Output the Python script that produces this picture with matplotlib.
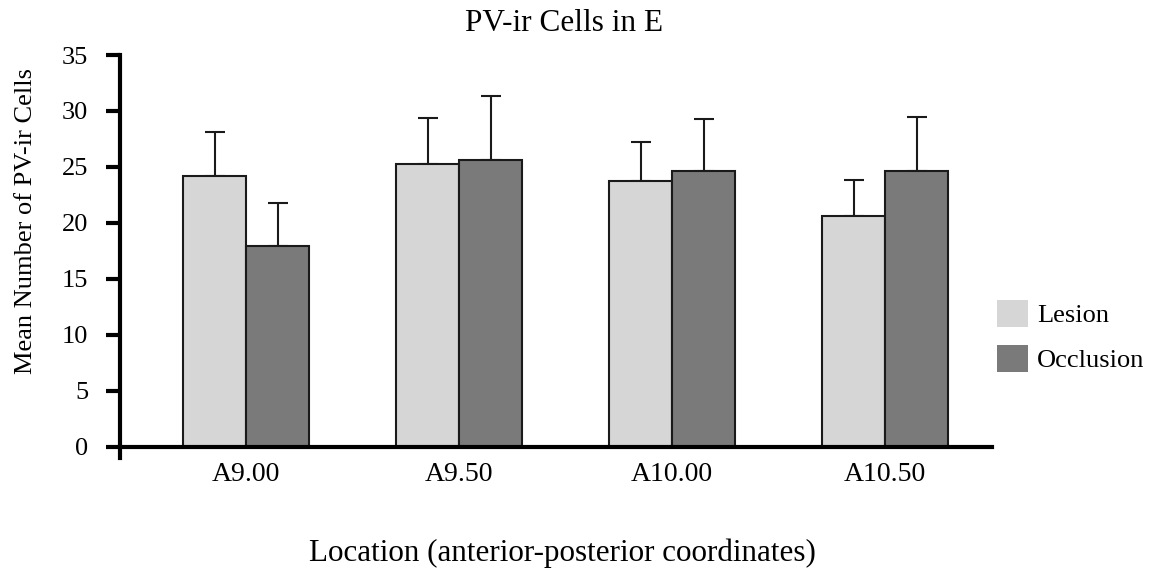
import numpy as np
import matplotlib
matplotlib.use("Agg")
import matplotlib.pyplot as plt
from matplotlib.patches import Patch

plt.rcParams["font.family"] = ["Liberation Serif", "DejaVu Serif"]

locations = ["A9.00", "A9.50", "A10.00", "A10.50"]
lesion = [24.2, 25.3, 23.7, 20.6]
lesion_err = [3.9, 4.1, 3.5, 3.2]
occlusion = [17.9, 25.6, 24.6, 24.6]
occlusion_err = [3.9, 5.7, 4.7, 4.9]
yticks = [0, 5, 10, 15, 20, 25, 30, 35]

light = "#d6d6d6"
dark = "#7a7a7a"
edge = "#1a1a1a"

W, H = 1154, 569
fig = plt.figure(figsize=(W / 100, H / 100), dpi=100)
ax = fig.add_axes([120 / W, 1 - 457.9 / H, 872 / W, (457.9 - 55) / H])

x = np.arange(len(locations))
w = 0.296
ax.bar(x - w / 2, lesion, w, color=light, edgecolor=edge, linewidth=1.5, zorder=2)
ax.bar(x + w / 2, occlusion, w, color=dark, edgecolor=edge, linewidth=1.5, zorder=2)
ax.errorbar(x - w / 2, lesion, yerr=[np.zeros(len(x)), lesion_err], fmt="none",
            ecolor=edge, elinewidth=1.5, capsize=7, capthick=1.5, zorder=1)
ax.errorbar(x + w / 2, occlusion, yerr=[np.zeros(len(x)), occlusion_err], fmt="none",
            ecolor=edge, elinewidth=1.5, capsize=7, capthick=1.5, zorder=1)

ax.set_xlim(-0.592, 3.502)
ax.set_ylim(-1, 35)
ax.spines["top"].set_visible(False)
ax.spines["right"].set_visible(False)
ax.spines["bottom"].set_position(("data", 0))
ax.spines["left"].set_linewidth(3)
ax.spines["bottom"].set_linewidth(3)
ax.spines["bottom"].set_zorder(3)

ax.set_yticks(yticks)
ax.tick_params(axis="y", length=10, width=3, pad=13, labelsize=19)
ax.set_xticks(x)
ax.set_xticklabels(locations)
ax.tick_params(axis="x", length=0, pad=11, labelsize=20)

handles = [Patch(facecolor=light, edgecolor="none", label="Lesion"),
           Patch(facecolor=dark, edgecolor="none", label="Occlusion")]
fig.legend(handles=handles, loc="center left", bbox_to_anchor=(996.7 / W, 1 - 336.3 / H),
           frameon=False, fontsize=19, handlelength=1.17, handleheight=1.17,
           handletextpad=0.35, labelspacing=0.68, borderpad=0, borderaxespad=0)

fig.text(564.5 / W, 1 - 31 / H, "PV-ir Cells in E", ha="center", va="baseline", fontsize=22.5)
fig.text(26 / W, 1 - 221 / H, "Mean Number of PV-ir Cells", rotation=90,
         ha="center", va="center", fontsize=19)
fig.text(562.5 / W, 1 - 561 / H, "Location (anterior-posterior coordinates)",
         ha="center", va="baseline", fontsize=22.4)

fig.savefig("out.png", dpi=100)
